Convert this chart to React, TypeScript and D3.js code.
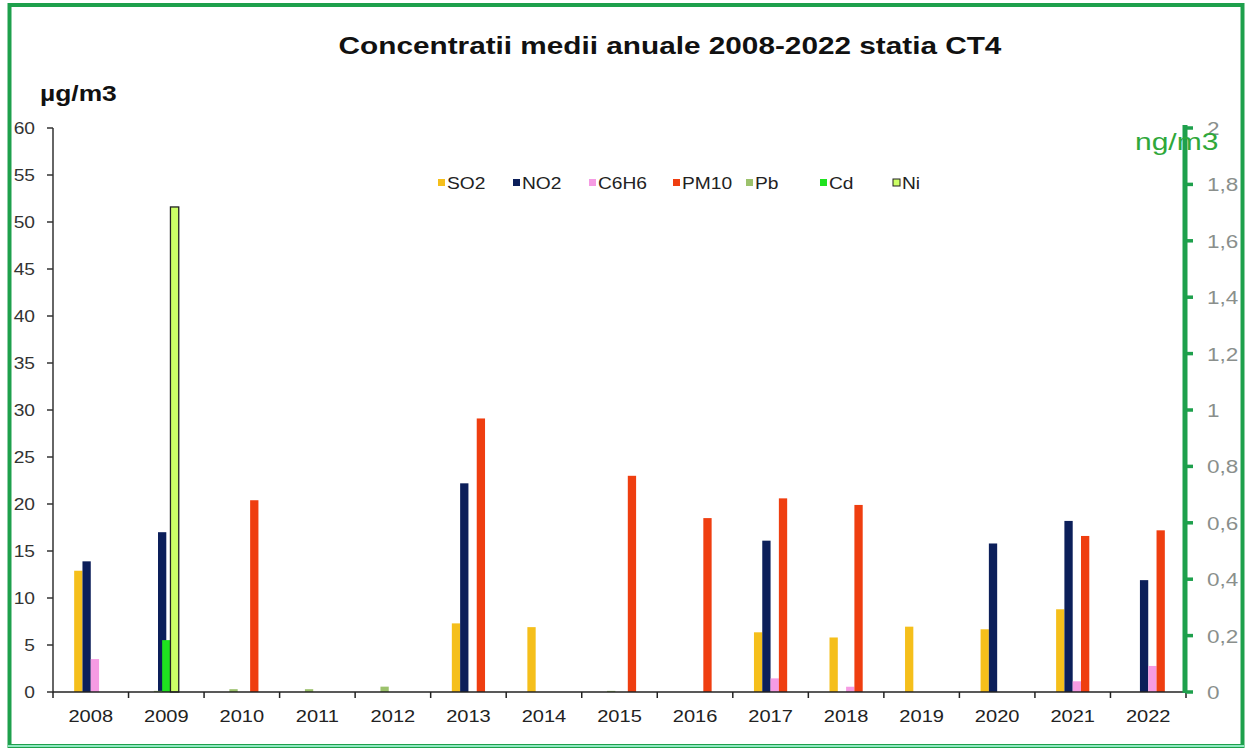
import React from "react";
import * as d3 from "d3";

const years = ["2008","2009","2010","2011","2012","2013","2014","2015","2016","2017","2018","2019","2020","2021","2022"];

// primary axis (µg/m3)
const so2 = [12.9, null, null, null, null, 7.3, 6.9, null, null, 6.35, 5.8, 6.95, 6.67, 8.8, null];
const no2 = [13.9, 17.0, null, null, null, 22.2, null, null, null, 16.1, null, null, 15.8, 18.2, 11.9];
const c6h6 = [3.5, null, null, null, null, null, null, null, null, 1.45, 0.56, null, null, 1.14, 2.77];
const pm10 = [null, null, 20.4, null, null, 29.1, null, 23.0, 18.5, 20.6, 19.9, null, null, 16.6, 17.2];
// secondary axis (ng/m3)
const pb = [null, 0.004, 0.01, 0.01, 0.019, null, null, 0.004, null, null, null, null, null, null, null];
const cd = [null, 0.184, null, null, null, null, null, null, null, null, null, null, null, null, null];
const ni = [null, 1.72, null, null, null, null, null, null, null, null, null, null, null, null, null];

const leftTicks = [0, 5, 10, 15, 20, 25, 30, 35, 40, 45, 50, 55, 60];
const rightTicks = [0, 0.2, 0.4, 0.6, 0.8, 1, 1.2, 1.4, 1.6, 1.8, 2];

const primary = [
  { name: "SO2", values: so2, color: "#f5bf1b" },
  { name: "NO2", values: no2, color: "#0c1f5a" },
  { name: "C6H6", values: c6h6, color: "#f59be3" },
  { name: "PM10", values: pm10, color: "#ef3e10" },
];
const secondary = [
  { name: "Pb", values: pb, color: "#9cc26c" },
  { name: "Cd", values: cd, color: "#1fe21f" },
  { name: "Ni", values: ni, color: "#ccff66", stroke: "#222" },
];

const FONT = "Arial, 'Liberation Sans', sans-serif";

function T({ x, y, sx = 1.2, size, anchor = "start", weight = "normal", fill = "#222", children }: any) {
  return (
    <text
      transform={`translate(${x},${y}) scale(${sx},1)`}
      textAnchor={anchor}
      fontFamily={FONT}
      fontSize={size}
      fontWeight={weight}
      fill={fill}
    >
      {children}
    </text>
  );
}

export default function App() {
  const W = 1247, H = 749;
  const x0 = 53, x1 = 1186, yTop = 128, yBot = 692;
  const x = d3.scaleBand<string>().domain(years).range([x0, x1]).padding(0);
  const yL = d3.scaleLinear().domain([0, 60]).range([yBot, yTop]);
  const yR = d3.scaleLinear().domain([0, 2]).range([yBot, yTop]);
  const bw = 8.3;

  const legendItems = [...primary, ...secondary];
  const legendX = [438, 513, 589, 673, 746, 820, 893];
  const fmtR = (v: number) => String(v).replace(".", ",");

  return (
    <svg width={W} height={H} style={{ position: "absolute", left: 0, top: 0, background: "#fff" }}>
      <rect x={0} y={0} width={W} height={H} fill="#fff" />
      {/* border */}
      <rect x={9.5} y={5} width={1233} height={741} fill="none" stroke="#1ea04c" strokeWidth={4} />
      <line x1={8} x2={1244} y1={746} y2={746} stroke="#8ee8c0" strokeWidth={2} />

      {/* title */}
      <T x={670} y={54} sx={1.24} size={24} weight="bold" anchor="middle" fill="#111">
        Concentratii medii anuale 2008-2022 statia CT4
      </T>
      <T x={40} y={101} sx={1.2} size={22} weight="bold" fill="#111">µg/m3</T>

      {/* bars primary */}
      {primary.map((s, i) =>
        s.values.map((v, k) => {
          if (v == null) return null;
          const c = (x(years[k]) as number) + x.bandwidth() / 2;
          const bx = c + (i - 2) * bw;
          return <rect key={s.name + k} x={bx} y={yL(v)} width={bw} height={yBot - yL(v)} fill={s.color} />;
        })
      )}
      {/* bars secondary */}
      {secondary.map((s, j) =>
        s.values.map((v, k) => {
          if (v == null) return null;
          const c = (x(years[k]) as number) + x.bandwidth() / 2;
          const bx = c + (j - 1.5) * bw;
          return (
            <rect
              key={s.name + k}
              x={bx}
              y={yR(v)}
              width={bw}
              height={yBot - yR(v)}
              fill={s.color}
              stroke={(s as any).stroke || "none"}
              strokeWidth={(s as any).stroke ? 1.3 : 0}
            />
          );
        })
      )}

      {/* left axis */}
      <line x1={x0} x2={x0} y1={yTop} y2={yBot} stroke="#333" strokeWidth={1.5} />
      {leftTicks.map((t) => (
        <g key={"l" + t}>
          <line x1={x0 - 6} x2={x0} y1={yL(t)} y2={yL(t)} stroke="#333" strokeWidth={1.5} />
          <T x={35} y={yL(t) + 6} sx={1.2} size={16} anchor="end" fill="#333">{t}</T>
        </g>
      ))}

      {/* x axis */}
      <line x1={x0} x2={x1} y1={yBot} y2={yBot} stroke="#222" strokeWidth={1.5} />
      {years.map((yr, k) => (
        <line key={"xt" + k} x1={x(yr) as number} x2={x(yr) as number} y1={yBot} y2={yBot + 6} stroke="#222" strokeWidth={1.5} />
      ))}
      <line x1={x1} x2={x1} y1={yBot} y2={yBot + 6} stroke="#222" strokeWidth={1.5} />
      {years.map((yr) => (
        <T key={"xl" + yr} x={(x(yr) as number) + x.bandwidth() / 2} y={722} sx={1.18} size={17} anchor="middle" fill="#222">
          {yr}
        </T>
      ))}

      {/* right axis */}
      <line x1={x1 - 1} x2={x1 - 1} y1={yTop - 3} y2={yBot + 1} stroke="#1ea04c" strokeWidth={5} />
      {rightTicks.map((t) => (
        <g key={"r" + t}>
          <line x1={x1} x2={x1 + 7} y1={yR(t)} y2={yR(t)} stroke="#1ea04c" strokeWidth={3.5} />
          <T x={1207} y={yR(t) + 7} sx={1.25} size={18} fill="#8a8f8c">{fmtR(t)}</T>
        </g>
      ))}
      <T x={1135} y={150} sx={1.25} size={24} fill="#2fa83a">ng/m3</T>

      {/* legend */}
      {legendItems.map((s, i) => (
        <g key={"lg" + s.name}>
          <rect
            x={legendX[i]}
            y={179}
            width={7}
            height={7}
            fill={s.color}
            stroke={(s as any).stroke || "none"}
            strokeWidth={(s as any).stroke ? 1 : 0}
          />
          <T x={legendX[i] + 9} y={189} sx={1.2} size={16} fill="#222">{s.name}</T>
        </g>
      ))}
    </svg>
  );
}
